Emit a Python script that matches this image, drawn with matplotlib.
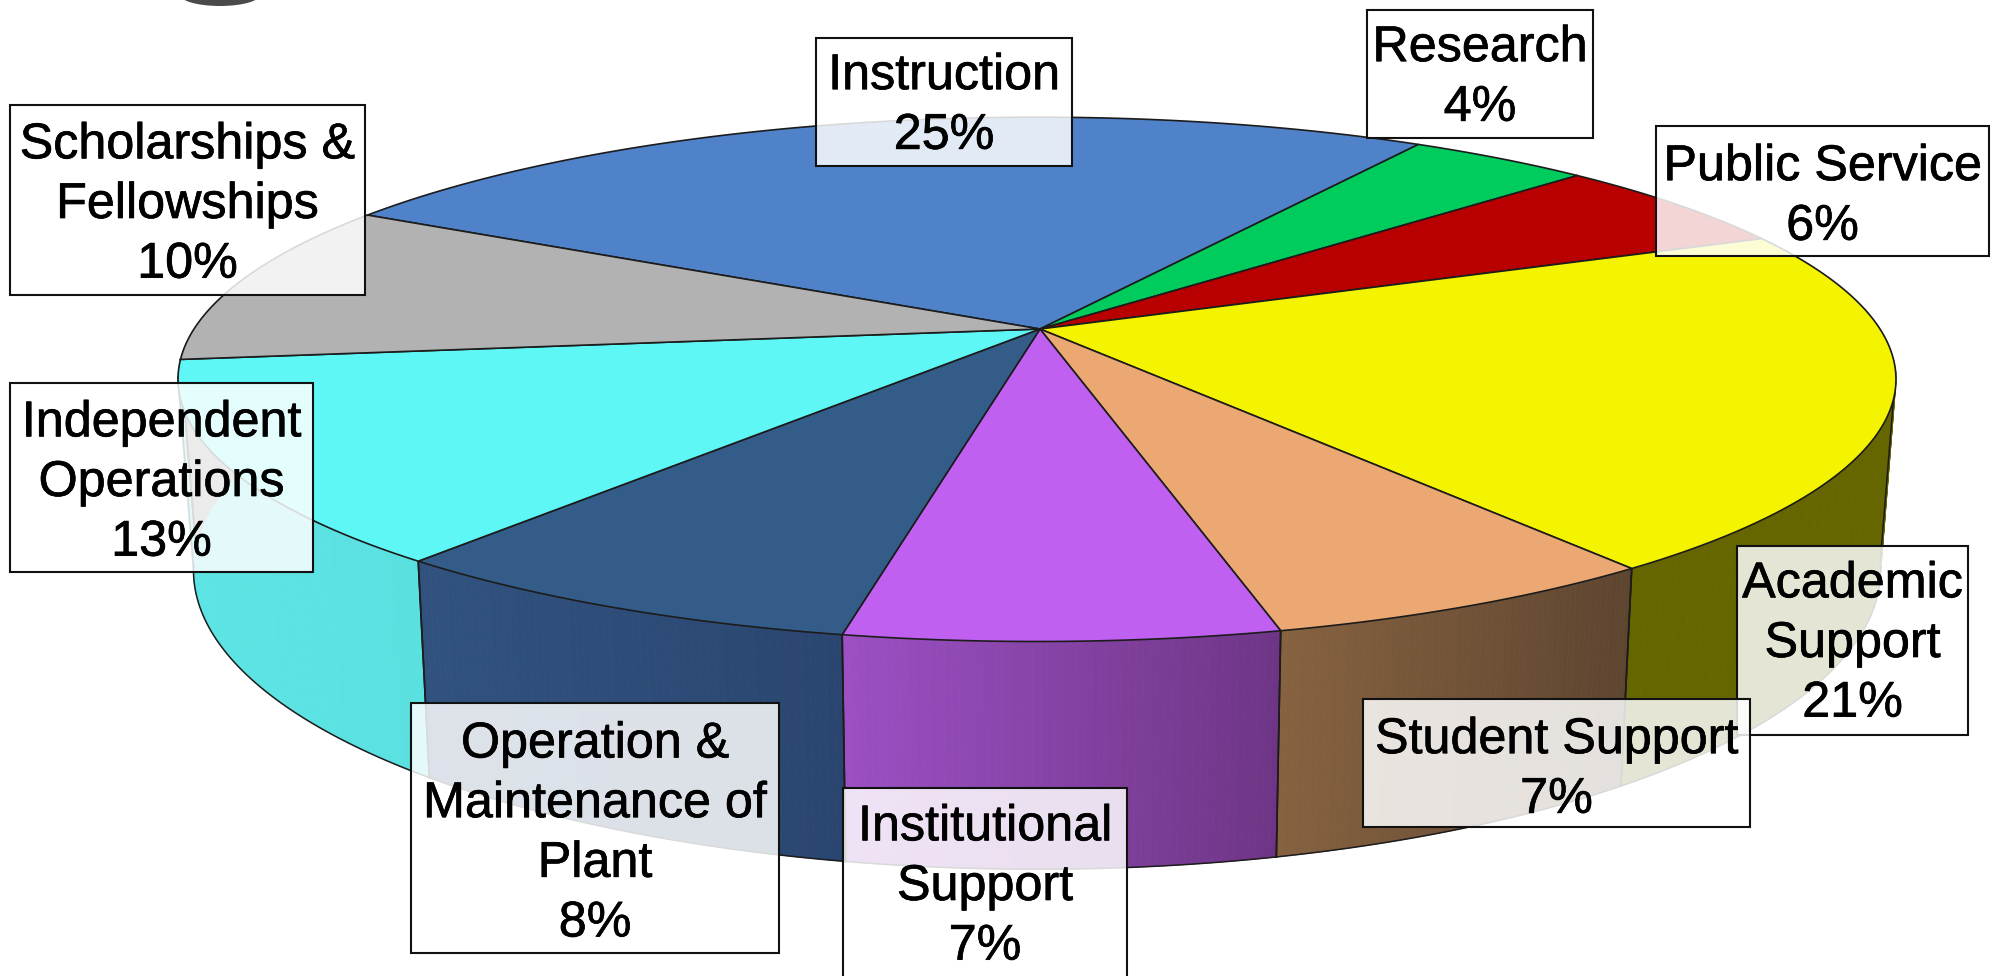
import numpy as np
import matplotlib
matplotlib.use("Agg")
import matplotlib.pyplot as plt
import matplotlib.patheffects as pe
from matplotlib.patches import Polygon, Rectangle, Ellipse
from matplotlib.collections import PolyCollection
from matplotlib.colors import to_rgb

categories = ["Instruction", "Research", "Public Service", "Academic\nSupport",
              "Student Support", "Institutional\nSupport",
              "Operation &\nMaintenance of\nPlant", "Independent\nOperations",
              "Scholarships &\nFellowships"]
percent_labels = [25, 4, 6, 21, 7, 7, 8, 13, 10]
# slice shares
shares = [25.6, 4.1, 5.8, 21.1, 6.4, 6.78, 7.72, 12.4, 10.1]

top_colors = ["#4f82c8", "#00cc5e", "#b80000", "#f4f400", "#eba872",
              "#bf60f0", "#335c88", "#5ef7f5", "#b2b2b2"]
side_left = ["#4f82c8", "#00cc5e", "#b80000", "#666600", "#866240",
             "#9c50c4", "#31527f", "#5ce4e4", "#8a8a8a"]
side_right = ["#4f82c8", "#00cc5e", "#b80000", "#666600", "#5e4530",
              "#6e3585", "#2a4670", "#5be0e0", "#8a8a8a"]

# label box: left, top, right, bottom, text centre y
boxes = [(816, 38, 1072, 166, 106), (1367, 10, 1593, 138, 78),
         (1656, 126, 1989, 256, 197), (1737, 546, 1968, 735, 644),
         (1363, 699, 1750, 827, 770), (843, 788, 1127, 1010, 887),
         (411, 703, 779, 953, 834), (10, 383, 313, 572, 483),
         (10, 105, 365, 295, 205)]

START = 150.4
CX, CY, A, B, C, H, TAPER = 1037, 329, 843, 252.5, 0.192, 184, 0.982


def project(theta, depth=0.0):
    t = np.radians(theta)
    x, y = np.cos(t), np.sin(t)
    den = 1 + C * y
    scale = 1 - (1 - TAPER) * depth
    return CX + scale * A * x / den, CY + (-B * y + depth * H) / den


fig = plt.figure(figsize=(20, 9.76), dpi=100, facecolor="white")
ax = fig.add_axes([0, 0, 1, 1])
ax.set_xlim(0, 2000)
ax.set_ylim(976, 0)
ax.axis("off")

ax.add_patch(Ellipse((220, -6), 82, 24, color="#4a4a4a", lw=0))

edges = START - np.cumsum([0] + shares) * 3.6
EDGE = "#1c1c1c"

# side wall
for i in range(len(shares)):
    th = np.linspace(edges[i], edges[i + 1], 61)
    x0, y0 = project(th, 0)
    x1, y1 = project(th, 1)
    if np.sin(np.radians(th)).min() > 0.15:
        continue
    polys, cols = [], []
    cl, cr = np.array(to_rgb(side_left[i])), np.array(to_rgb(side_right[i]))
    xmin, xmax = x0.min(), x0.max()
    for j in range(60):
        polys.append([(x0[j], y0[j]), (x0[j + 1], y0[j + 1]), (x1[j + 1], y1[j + 1]), (x1[j], y1[j])])
        f = ((x0[j] + x0[j + 1]) / 2 - xmin) / max(xmax - xmin, 1)
        cols.append(cl + (cr - cl) * f)
    ax.add_collection(PolyCollection(polys, facecolors=cols, edgecolors=cols, linewidths=0.6, zorder=2))
    vis = np.sin(np.radians(th)) < -0.16
    ax.plot(x1[vis], y1[vis], color=EDGE, lw=1.1, zorder=3)
    for e in (edges[i], edges[i + 1]):
        if np.sin(np.radians(e)) < -0.1:
            xa, ya = project(e, 0)
            xb, yb = project(e, 1)
            ax.plot([xa, xb], [ya, yb], color=EDGE, lw=1.2, zorder=3)

# right and left silhouettes of the wall
for e in (-9.5, 190.5):
    xa, ya = project(e, 0)
    xb, yb = project(e, 1)
    ax.plot([xa, xb], [ya, yb], color=EDGE, lw=1.1, zorder=3)

# top face
for i in range(len(shares)):
    th = np.linspace(edges[i], edges[i + 1], 90)
    x0, y0 = project(th, 0)
    pts = np.vstack([[CX + 3, CY], np.column_stack([x0, y0])])
    ax.add_patch(Polygon(pts, closed=True, facecolor=top_colors[i], edgecolor=EDGE,
                         lw=1.2, joinstyle="round", zorder=4))

# labels
for name, pct, (l, t, r, b, yc) in zip(categories, percent_labels, boxes):
    ax.add_patch(Rectangle((l, t), r - l, b - t, facecolor=(1, 1, 1, 0.84),
                           edgecolor="#111111", lw=1.5, zorder=5))
    ax.text((l + r) / 2, yc, f"{name}\n{pct}%", ha="center", va="center", ma="center",
            fontsize=36.2, family="Liberation Sans", color="black", linespacing=1.38, zorder=5,
            path_effects=[pe.withStroke(linewidth=0.5, foreground="black")])

fig.savefig("out.png", dpi=100)
